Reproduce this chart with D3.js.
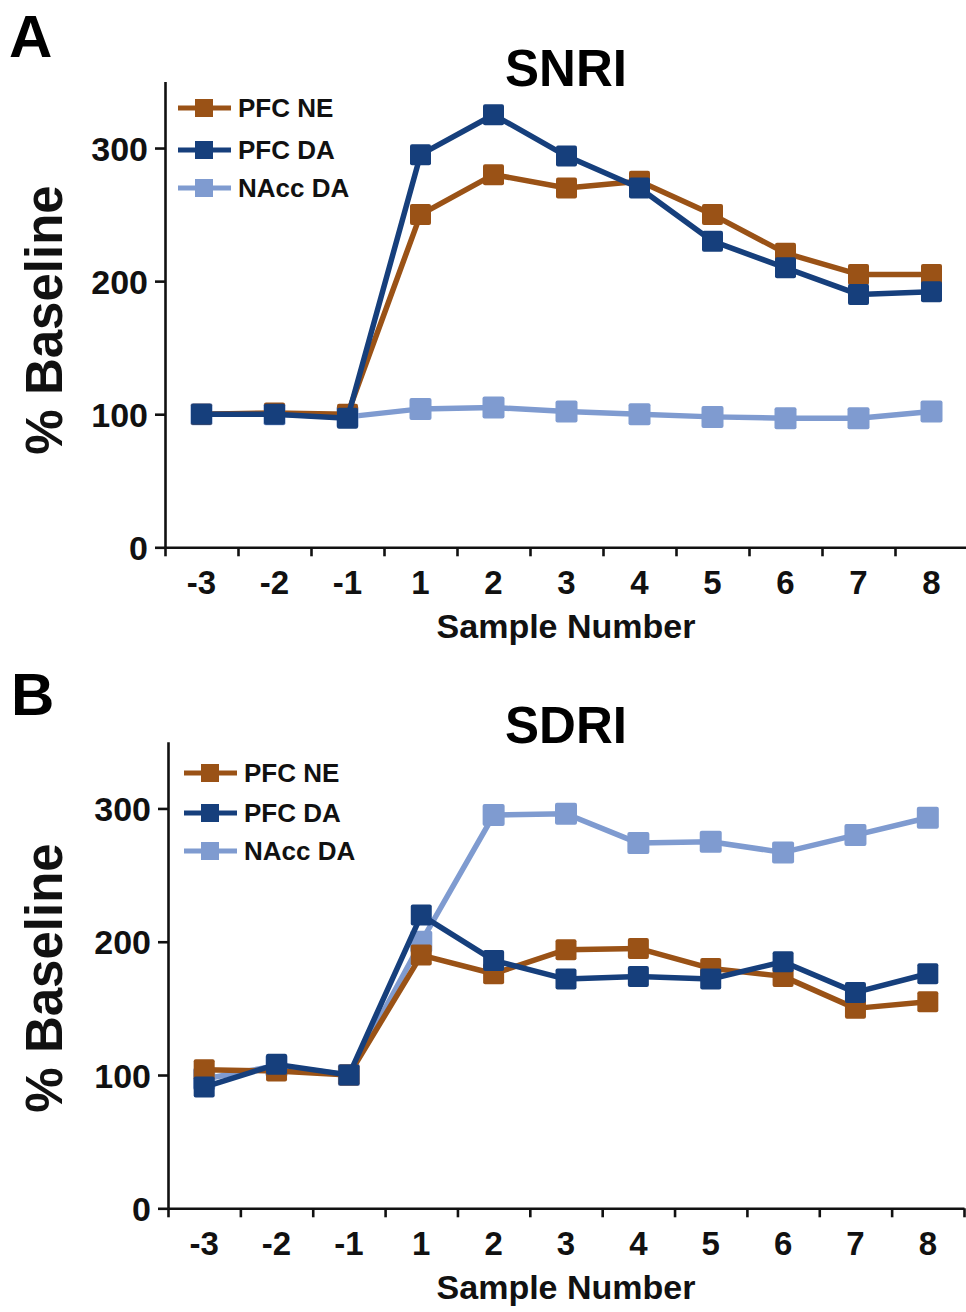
<!DOCTYPE html>
<html>
<head>
<meta charset="utf-8">
<script src="https://cdn.jsdelivr.net/npm/d3@7"></script>
<style>
  html, body { margin: 0; padding: 0; background: #fff; }
  svg { display: block; font-family: "Liberation Sans", Arial, sans-serif; font-weight: bold; }
</style>
</head>
<body>
<svg id="chart" width="966" height="1312"></svg>
<script>
const categories = ['-3', '-2', '-1', '1', '2', '3', '4', '5', '6', '7', '8'];
const yTicks = [0, 100, 200, 300];
const seriesNames = ['PFC NE', 'PFC DA', 'NAcc DA'];

// Panel A: SNRI
const snriPfcNe = [100, 101, 100, 250, 280, 270, 275, 250, 221, 205, 205];
const snriPfcDa = [100, 100, 97, 295, 325, 294, 270, 230, 210, 190, 192];
const snriNaccDa = [100, 100, 98, 104, 105, 102, 100, 98, 97, 97, 102];

// Panel B: SDRI
const sdriPfcNe = [104, 103, 100, 190, 176, 194, 195, 180, 174, 150, 155];
const sdriPfcDa = [91, 108, 100, 220, 186, 172, 174, 172, 185, 162, 176];
const sdriNaccDa = [97, 107, 100, 200, 295, 296, 274, 275, 267, 280, 293];

const COLORS = {
  'PFC NE': '#9a5216',
  'PFC DA': '#163f7c',
  'NAcc DA': '#7f9bd0',
};

const svg = d3.select('#chart');

function drawPanel(opts) {
  const g = svg.append('g');
  const x = d3.scaleBand().domain(categories).range([opts.left, opts.right]).paddingInner(0);
  const xEdge = d3.scaleLinear().domain([0, categories.length]).range([opts.left, opts.right]);
  const y = d3.scaleLinear().domain([0, 350]).range([opts.bottom, opts.top]);

  // Panel letter and title
  g.append('text')
    .attr('x', opts.letterX).attr('y', opts.letterY)
    .attr('font-size', 60)
    .text(opts.letter);

  g.append('text')
    .attr('x', 566).attr('y', opts.titleY)
    .attr('text-anchor', 'middle')
    .attr('font-size', 51)
    .text(opts.title);

  // Y axis
  const yAxis = g.append('g')
    .attr('transform', `translate(${opts.left},0)`)
    .call(d3.axisLeft(y).tickValues(yTicks).tickSize(10).tickPadding(7).tickSizeOuter(0));
  yAxis.select('.domain').attr('stroke', '#111').attr('stroke-width', 2.6);
  yAxis.selectAll('.tick line').attr('stroke', '#111').attr('stroke-width', 2.6);
  yAxis.selectAll('.tick text')
    .attr('font-size', 34).attr('font-family', null).attr('fill', '#111')
    .attr('dy', '0.36em');

  // X axis: ticks at band edges, labels at band centres
  const xAxis = g.append('g')
    .attr('transform', `translate(0,${opts.bottom})`)
    .call(d3.axisBottom(xEdge).tickValues(d3.range(categories.length + 1))
      .tickSize(9).tickFormat('').tickSizeOuter(0));
  xAxis.select('.domain').attr('stroke', '#111').attr('stroke-width', 2.6);
  xAxis.selectAll('.tick line').attr('stroke', '#111').attr('stroke-width', 2.6);

  g.append('g').selectAll('text')
    .data(categories)
    .join('text')
      .attr('x', (d) => x(d) + x.bandwidth() / 2)
      .attr('y', opts.bottom + 47)
      .attr('text-anchor', 'middle')
      .attr('font-size', 33)
      .attr('fill', '#111')
      .text((d) => d);

  g.append('text')
    .attr('x', 566).attr('y', opts.bottom + 91)
    .attr('text-anchor', 'middle')
    .attr('font-size', 34)
    .attr('fill', '#111')
    .text('Sample Number');

  g.append('text')
    .attr('transform', `translate(62,${opts.yLabelY}) rotate(-90)`)
    .attr('text-anchor', 'middle')
    .attr('font-size', 51)
    .attr('fill', '#111')
    .text('% Baseline');

  // Series, drawn back to front
  const line = d3.line()
    .x((d, i) => x(categories[i]) + x.bandwidth() / 2)
    .y((d) => y(d));

  const order = ['NAcc DA', 'PFC NE', 'PFC DA'];
  order.forEach((name) => {
    const values = opts.series[name];
    const s = g.append('g');
    s.append('path')
      .datum(values)
      .attr('fill', 'none')
      .attr('stroke', COLORS[name])
      .attr('stroke-width', 5.5)
      .attr('stroke-linejoin', 'round')
      .attr('d', line);
    const size = name === 'NAcc DA' ? 22 : 21;
    s.selectAll('rect')
      .data(values)
      .join('rect')
        .attr('x', (d, i) => x(categories[i]) + x.bandwidth() / 2 - size / 2)
        .attr('y', (d) => y(d) - size / 2)
        .attr('width', size).attr('height', size)
        .attr('rx', 2)
        .attr('fill', COLORS[name]);
  });

  // Legend
  const leg = g.append('g');
  seriesNames.forEach((name, i) => {
    const ly = opts.legendY[i];
    leg.append('line')
      .attr('x1', opts.legendX).attr('x2', opts.legendX + 53)
      .attr('y1', ly).attr('y2', ly)
      .attr('stroke', COLORS[name]).attr('stroke-width', 5);
    leg.append('rect')
      .attr('x', opts.legendX + 26 - 9).attr('y', ly - 9)
      .attr('width', 18).attr('height', 18)
      .attr('fill', COLORS[name]);
    leg.append('text')
      .attr('x', opts.legendX + 60).attr('y', ly)
      .attr('dy', '0.36em')
      .attr('font-size', 26)
      .attr('fill', '#111')
      .text(name);
  });
}

drawPanel({
  letter: 'A', letterX: 9, letterY: 57,
  title: 'SNRI', titleY: 86,
  left: 165, right: 968, top: 81.5, bottom: 547.3,
  yLabelY: 320,
  legendX: 178, legendY: [108, 150, 188],
  series: { 'PFC NE': snriPfcNe, 'PFC DA': snriPfcDa, 'NAcc DA': snriNaccDa },
});

drawPanel({
  letter: 'B', letterX: 11, letterY: 715,
  title: 'SDRI', titleY: 743,
  left: 168, right: 964, top: 741.8, bottom: 1208.3,
  yLabelY: 978,
  legendX: 184, legendY: [773, 813, 851],
  series: { 'PFC NE': sdriPfcNe, 'PFC DA': sdriPfcDa, 'NAcc DA': sdriNaccDa },
});
</script>
</body>
</html>
